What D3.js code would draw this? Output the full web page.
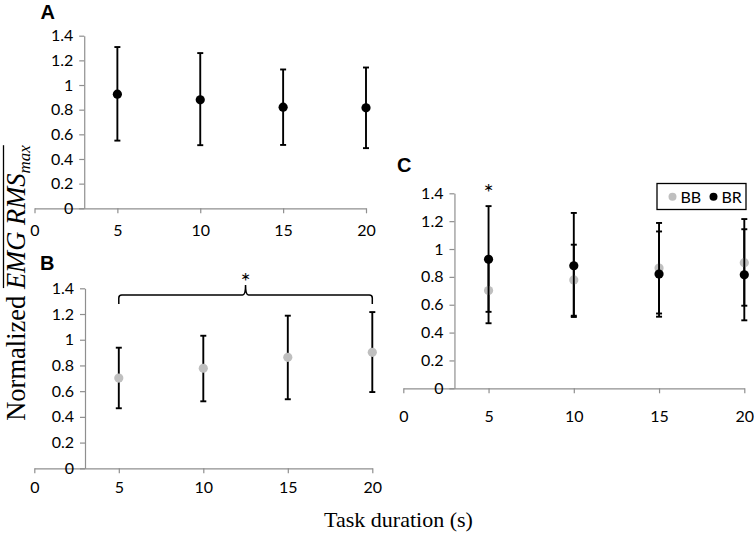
<!DOCTYPE html>
<html>
<head>
<meta charset="utf-8">
<script src="https://cdn.jsdelivr.net/npm/d3@7"></script>
<style>
  body { margin: 0; background: #fff; }
  svg { display: block; }
  .tick text { font-family: Lato, "Open Sans", sans-serif; font-size: 16px; fill: #000; }
  .axis path, .axis line { stroke: #8f8f8f; stroke-width: 1.2; }
</style>
</head>
<body>
<svg id="chart" width="754" height="533"></svg>
<script>
// Task durations (s) and normalized EMG RMS values
var durations = [5, 10, 15, 20];
var brMean = [0.926, 0.880, 0.820, 0.815];
var brLow  = [0.549, 0.512, 0.514, 0.488];
var brHigh = [1.308, 1.259, 1.126, 1.142];
var bbMean = [0.702, 0.778, 0.863, 0.902];
var bbLow  = [0.467, 0.521, 0.537, 0.593];
var bbHigh = [0.938, 1.031, 1.187, 1.215];

var xTicks = [0, 5, 10, 15, 20];
var yTicks = [0, 0.2, 0.4, 0.6, 0.8, 1, 1.2, 1.4];
var seriesNames = ["BB", "BR"];

var colors = { BB: "#bfbfbf", BR: "#000000" };

var svg = d3.select("#chart");

function makeSeries(mean, low, high) {
    return durations.map(function (d, i) {
        return { t: d, mean: mean[i], low: low[i], high: high[i] };
    });
}
var bb = makeSeries(bbMean, bbLow, bbHigh);
var br = makeSeries(brMean, brLow, brHigh);

// Draw one panel: axes, error bars and points
function panel(opt) {
    var x = d3.scaleLinear().domain([0, 20]).range([opt.x0, opt.x1]);
    var y = d3.scaleLinear().domain([0, 1.4]).range([opt.y0, opt.y1]);
    var g = svg.append("g").attr("class", "panel");

    g.append("g")
        .attr("class", "axis")
        .attr("transform", "translate(0," + y(0) + ")")
        .call(d3.axisBottom(x).tickValues(xTicks).tickSize(5).tickSizeOuter(0).tickPadding(opt.xPad));

    g.append("g")
        .attr("class", "axis")
        .attr("transform", "translate(" + x(3) + ",0)")
        .call(d3.axisLeft(y).tickValues(yTicks).tickSize(5).tickSizeOuter(0).tickPadding(6)
            .tickFormat(function (d) { return String(+d.toFixed(1)); }));

    g.selectAll(".domain").attr("stroke", "#8f8f8f");

    g.append("text")
        .attr("x", opt.labelX).attr("y", opt.labelY)
        .style("font-family", "Liberation Sans, Arial, sans-serif")
        .style("font-weight", "bold").style("font-size", "20px")
        .text(opt.label);

    opt.series.forEach(function (s) {
        var data = s.name === "BB" ? bb : br;
        var bars = g.append("g").selectAll("g").data(data).enter().append("g")
            .attr("stroke", "#000").attr("stroke-width", 1.9);
        bars.append("line")
            .attr("x1", function (d) { return x(d.t); }).attr("x2", function (d) { return x(d.t); })
            .attr("y1", function (d) { return y(d.low); }).attr("y2", function (d) { return y(d.high); });
        bars.append("line")
            .attr("x1", function (d) { return x(d.t) - 3; }).attr("x2", function (d) { return x(d.t) + 3; })
            .attr("y1", function (d) { return y(d.high); }).attr("y2", function (d) { return y(d.high); });
        bars.append("line")
            .attr("x1", function (d) { return x(d.t) - 3; }).attr("x2", function (d) { return x(d.t) + 3; })
            .attr("y1", function (d) { return y(d.low); }).attr("y2", function (d) { return y(d.low); });
        g.append("g").selectAll("circle").data(data).enter().append("circle")
            .attr("cx", function (d) { return x(d.t); })
            .attr("cy", function (d) { return y(d.mean); })
            .attr("r", 4.6)
            .attr("fill", colors[s.name]);
    });

    return { g: g, x: x, y: y };
}

// A: BR only
panel({ x0: 34.5, x1: 366, y0: 208.3, y1: 35.7, xPad: 11.5, label: "A", labelX: 40.5, labelY: 18.5,
        series: [{ name: "BR" }] });

// B: BB only, with significance brace
var pB = panel({ x0: 34.3, x1: 372.3, y0: 468.3, y1: 288.3, xPad: 8, label: "B", labelX: 40, labelY: 269.5,
        series: [{ name: "BB" }] });

var bx0 = pB.x(5), bx1 = pB.x(20), bxm = pB.x(12.5);
var by = 295, bEnd = 304, bTop = 285;
pB.g.append("path")
    .attr("d", "M" + bx0 + "," + bEnd + " L" + bx0 + "," + (by + 3) + " Q" + bx0 + "," + by + " " + (bx0 + 3) + "," + by +
        " L" + (bxm - 3) + "," + by + " Q" + bxm + "," + by + " " + bxm + "," + bTop +
        " Q" + bxm + "," + by + " " + (bxm + 3) + "," + by +
        " L" + (bx1 - 3) + "," + by + " Q" + bx1 + "," + by + " " + bx1 + "," + (by + 3) + " L" + bx1 + "," + bEnd)
    .attr("fill", "none").attr("stroke", "#000").attr("stroke-width", 1.5);
pB.g.append("text")
    .attr("x", bxm).attr("y", 289.5).attr("text-anchor", "middle")
    .style("font-family", "Lato, sans-serif").style("font-size", "24px").attr("fill", "#000")
    .text("*");

// C: both series with legend
var pC = panel({ x0: 403.3, x1: 744.3, y0: 388.3, y1: 193.3, xPad: 17, label: "C", labelX: 397, labelY: 172,
        series: [{ name: "BB" }, { name: "BR" }] });

pC.g.append("text")
    .attr("x", pC.x(5)).attr("y", 200.5).attr("text-anchor", "middle")
    .style("font-family", "Lato, sans-serif").style("font-size", "24px").attr("fill", "#000")
    .text("*");

var legend = pC.g.append("g").attr("transform", "translate(657,183.5)");
legend.append("rect").attr("width", 89).attr("height", 26)
    .attr("fill", "#fff").attr("stroke", "#000").attr("stroke-width", 1.3);
var legendX = [15.5, 56.5];
seriesNames.forEach(function (name, i) {
    legend.append("circle").attr("cx", legendX[i]).attr("cy", 13.2).attr("r", 4)
        .attr("fill", colors[name]);
    legend.append("text").attr("x", legendX[i] + 8).attr("y", 19)
        .style("font-family", "Lato, sans-serif").style("font-size", "16px")
        .text(name);
});

// Shared axis titles
svg.append("text")
    .attr("x", 398.5).attr("y", 526.5).attr("text-anchor", "middle")
    .style("font-family", "Liberation Serif, Times New Roman, serif").style("font-size", "22px")
    .text("Task duration (s)");

var yTitle = svg.append("g").attr("transform", "translate(25,283) rotate(-90)");
var yText = yTitle.append("text")
    .style("font-family", "Liberation Serif, Times New Roman, serif").style("font-size", "26.5px");
yText.append("tspan").text("Normalized ");
yText.append("tspan").style("font-style", "italic").text("EMG RMS");
yText.append("tspan").style("font-style", "italic").style("font-size", "17px")
    .attr("dy", 4.5).text("max");

var node = yText.node();
var total = node.getComputedTextLength();
var lenNorm = node.getSubStringLength(0, "Normalized ".length);
yText.attr("x", -total / 2);
yTitle.append("line")
    .attr("x1", -total / 2 + lenNorm + 1).attr("x2", total / 2)
    .attr("y1", -21.5).attr("y2", -21.5)
    .attr("stroke", "#000").attr("stroke-width", 1.3);
</script>
</body>
</html>
